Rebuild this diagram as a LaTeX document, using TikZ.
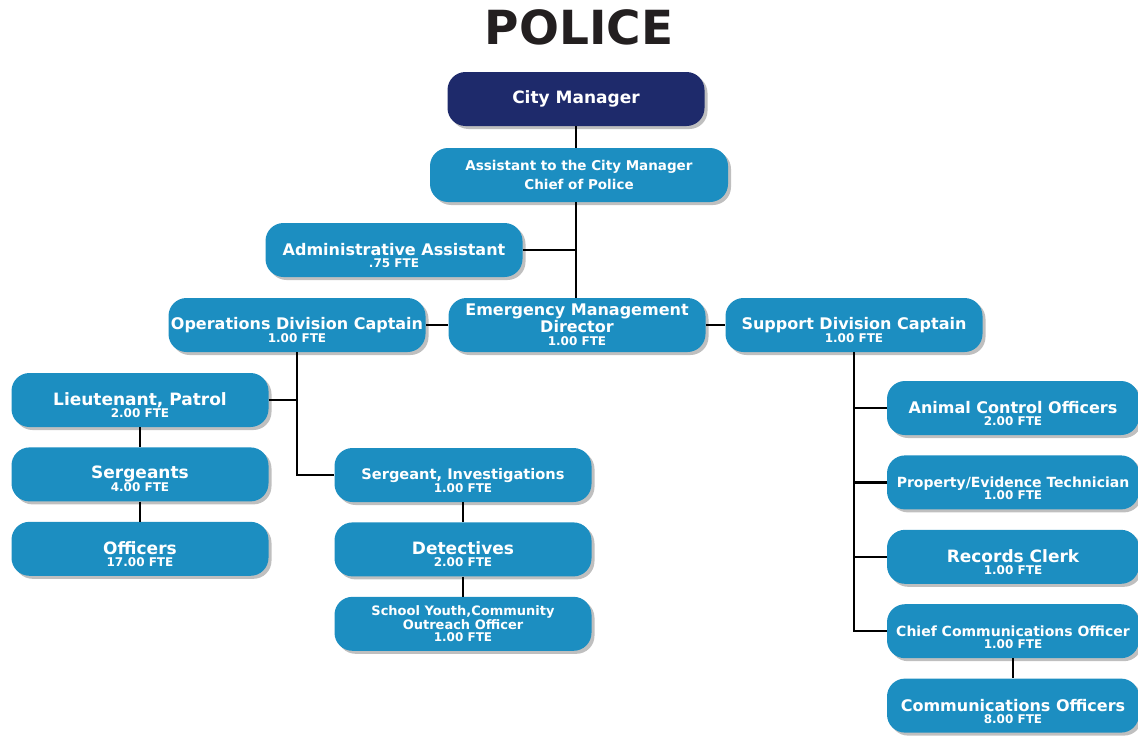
\documentclass[tikz,border=0pt]{standalone}
\usepackage{fontspec}
\setmainfont{DejaVu Sans}
\usetikzlibrary{positioning, shadows}

\definecolor{policeblue}{RGB}{28,142,193}
\definecolor{navy}{RGB}{30,42,107}
\definecolor{titlegray}{RGB}{35,31,32}

\newcommand{\fte}[1]{{\fontsize{12}{12}\selectfont #1}}

\begin{document}
\begin{tikzpicture}[
  x=1pt, y=-1pt,
  box/.style={draw=none, fill=policeblue, rounded corners=18pt, minimum width=257pt,
              minimum height=54pt, inner sep=2pt, align=center, text=white,
              font=\fontsize{16}{12}\selectfont\bfseries,
              drop shadow={shadow xshift=3pt, shadow yshift=-3pt, opacity=0.5}},
  role/.style={box, execute at begin node={\rule{0pt}{35pt}}},
  big/.style={font=\fontsize{17}{12}\selectfont\bfseries},
  small/.style={font=\fontsize{14}{12}\selectfont\bfseries},
  link/.style={line width=2.5pt, black},
  node distance=20pt
]
  \useasboundingbox (0,0) rectangle (1138,736);

  \node[font=\fontsize{47}{47}\selectfont\bfseries, text=titlegray] (title) at (579,27) {POLICE};

  % top of the chart
  \node[box, big, fill=navy] (mgr) at (576,99) {City Manager};
  \node[box, minimum width=298pt, font=\fontsize{13.5}{19}\selectfont\bfseries] (chief) at (579,175)
       {Assistant to the City Manager\\Chief of Police};
  \node[role] (admin) at (394,250) {Administrative Assistant\\\fte{.75 FTE}};

  % division level
  \node[role] (ops) at (297,325) {Operations Division Captain\\\fte{1.00 FTE}};
  \node[box, font=\fontsize{16}{13}\selectfont\bfseries] (emd) at (577,325)
       {Emergency Management\\Director\\\fte{1.00 FTE}};
  \node[role] (supp) at (854,325) {Support Division Captain\\\fte{1.00 FTE}};

  % operations
  \node[role, big] (lieut) at (140,400) {Lieutenant, Patrol\\\fte{2.00 FTE}};
  \node[role, big, below=of lieut] (sgts) {Sergeants\\\fte{4.00 FTE}};
  \node[role, big, below=of sgts]  (offc) {Officers\\\fte{17.00 FTE}};
  \node[role, font=\fontsize{14.6}{12}\selectfont\bfseries] (sginv) at (463,475)
       {Sergeant, Investigations\\\fte{1.00 FTE}};
  \node[role, big, below=of sginv] (detect) {Detectives\\\fte{2.00 FTE}};
  \node[box, font=\fontsize{13}{12.5}\selectfont\bfseries, below=of detect] (school)
       {School Youth,Community\\Outreach Officer\\\fte{1.00 FTE}};

  % support
  \node[role, minimum width=252pt] (animal) at (1013,408) {Animal Control Officers\\\fte{2.00 FTE}};
  \node[role, small, minimum width=252pt, below=of animal] (prop)
       {Property/Evidence Technician\\\fte{1.00 FTE}};
  \node[role, big, minimum width=252pt, below=of prop] (records) {Records Clerk\\\fte{1.00 FTE}};
  \node[role, small, minimum width=252pt, below=of records] (ccomm)
       {Chief Communications Officer\\\fte{1.00 FTE}};
  \node[role, minimum width=252pt, below=of ccomm] (comms) {Communications Officers\\\fte{8.00 FTE}};

  % connectors
  \draw[link] (mgr.south) -- (mgr.south |- chief.north);
  \draw[link] (mgr.south |- chief.south) -- (mgr.south |- emd.north);
  \draw[link] (admin.east) -- (admin.east -| mgr.south);
  \draw[link] (ops.east) -- (emd.west);
  \draw[link] (emd.east) -- (supp.west);
  \draw[link] (ops.south) |- (sginv.west);
  \draw[link] (lieut.east) -- (lieut.east -| ops.south);
  \draw[link] (lieut) -- (sgts);
  \draw[link] (sgts) -- (offc);
  \draw[link] (sginv) -- (detect);
  \draw[link] (detect) -- (school);
  \draw[link] (supp.south) |- (ccomm.west);
  \draw[link] (animal.west) -- (animal.west -| supp.south);
  \draw[link] (prop.west) -- (prop.west -| supp.south);
  \draw[link] (records.west) -- (records.west -| supp.south);
  \draw[link] (ccomm) -- (comms);
\end{tikzpicture}
\end{document}
